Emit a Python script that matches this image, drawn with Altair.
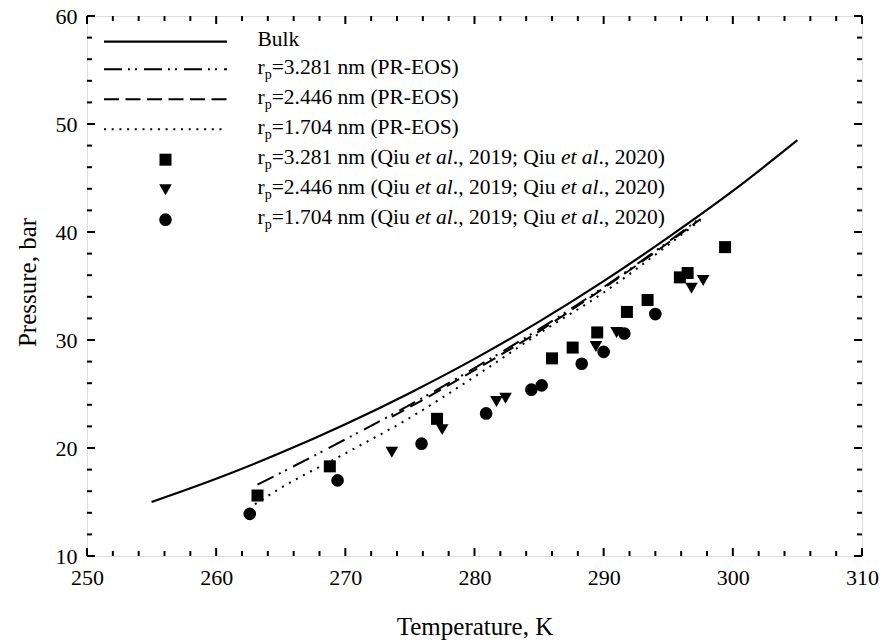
import altair as alt
import pandas as pd

FONT = "Liberation Serif"

# ---------------- data ----------------
bulk_T = [255, 260, 265, 270, 275, 280, 285, 290, 295, 300, 305]
bulk_P = [15.0, 17.15, 19.55, 22.2, 25.1, 28.25, 31.7, 35.45, 39.5, 43.8, 48.5]

pr3281_T = [263.2, 265, 270, 275, 280, 285, 290, 295, 297.5]
pr3281_P = [16.6, 17.7, 20.8, 24.0, 27.4, 31.0, 34.9, 39.1, 41.3]

pr2446_T = [273.6, 275, 280, 285, 290, 295, 297.5]
pr2446_P = [22.9, 23.8, 27.2, 30.8, 34.8, 39.0, 41.2]

pr1704_T = [263.0, 265, 270, 275, 280, 285, 290, 295, 297.5]
pr1704_P = [14.8, 16.3, 19.5, 22.8, 26.6, 30.6, 34.4, 38.8, 41.1]

sq_T = [263.2, 268.8, 277.1, 286.0, 287.6, 289.5, 291.8, 293.4, 295.9, 296.5, 299.4]
sq_P = [15.6, 18.3, 22.7, 28.3, 29.3, 30.7, 32.6, 33.7, 35.8, 36.2, 38.6]

tri_T = [273.6, 277.5, 281.7, 282.4, 289.4, 291.0, 296.8, 297.7]
tri_P = [19.6, 21.7, 24.3, 24.6, 29.4, 30.7, 34.8, 35.5]

cir_T = [262.6, 269.4, 275.9, 280.9, 284.4, 285.2, 288.3, 290.0, 291.6, 294.0]
cir_P = [13.9, 17.0, 20.4, 23.2, 25.4, 25.8, 27.8, 28.9, 30.6, 32.4]

x_major = [250, 260, 270, 280, 290, 300, 310]
y_major = [10, 20, 30, 40, 50, 60]
x_minor = [v for v in range(252, 310, 2) if v % 10 != 0]
y_minor = [v for v in range(12, 60, 2) if v % 10 != 0]

legend_labels = [
    "Bulk",
    "=3.281 nm (PR-EOS)",
    "=2.446 nm (PR-EOS)",
    "=1.704 nm (PR-EOS)",
    "=3.281 nm (Qiu |et al|., 2019; Qiu |et al|., 2020)",
    "=2.446 nm (Qiu |et al|., 2019; Qiu |et al|., 2020)",
    "=1.704 nm (Qiu |et al|., 2019; Qiu |et al|., 2020)",
]

# ---------------- layout ----------------
PADL, PADT = 87, 16
W, H = 775, 540
MAJ, MIN = 8, 5
LEG_FS = 21.5
SUB_FS = 14
XMIN, XMAX, YMIN, YMAX = 250, 310, 10, 60

xs = alt.Scale(domain=[XMIN, XMAX], nice=False, zero=False)
ys = alt.Scale(domain=[YMIN, YMAX], nice=False, zero=False)

xaxis = alt.Axis(values=x_major, title="Temperature, K", ticks=False, domain=False, grid=False,
                 labelFont=FONT, labelFontSize=22, labelColor="black", labelPadding=11,
                 labelFlush=False, labelOverlap=False,
                 titleFont=FONT, titleFontSize=25, titleFontWeight="normal", titleColor="black",
                 titleY=78, titleBaseline="alphabetic")
yaxis = alt.Axis(values=y_major, title="Pressure, bar", ticks=False, domain=False, grid=False,
                 labelFont=FONT, labelFontSize=22, labelColor="black", labelPadding=10,
                 labelFlush=False, labelOverlap=False,
                 titleFont=FONT, titleFontSize=25, titleFontWeight="normal", titleColor="black",
                 titleX=-52, titleY=266, titleAngle=-90, titleBaseline="alphabetic")

XE = lambda f: alt.X(f, scale=xs, axis=xaxis)
YE = lambda f: alt.Y(f, scale=ys, axis=yaxis)


def df_xy(T, P):
    return pd.DataFrame({"T": T, "P": P})


def enc():
    return dict(x=XE("T:Q"), y=YE("P:Q"))


def line_layer(T, P, dash=None, width=2):
    kw = dict(color="black", strokeWidth=width, strokeCap="butt", interpolate="monotone")
    if dash:
        kw["strokeDash"] = dash
    return alt.Chart(df_xy(T, P)).mark_line(**kw).encode(**enc())


def point_layer(T, P, shape, size):
    return alt.Chart(df_xy(T, P)).mark_point(shape=shape, filled=True, size=size,
                                              color="black", opacity=1).encode(**enc())


bulk = line_layer(bulk_T, bulk_P, width=2.2)
l3281 = line_layer(pr3281_T, pr3281_P, dash=[18, 6, 2, 5, 2, 7])
l2446 = line_layer(pr2446_T, pr2446_P, dash=[14, 7])
l1704 = line_layer(pr1704_T, pr1704_P, dash=[2, 6])

p_sq = point_layer(sq_T, sq_P, "square", 144)
p_tri = point_layer(tri_T, tri_P, "triangle-down", 160)
p_cir = point_layer(cir_T, cir_P, "circle", 160)

# ---------------- inward ticks on all four sides ----------------
tick_layers = []
for vals, L in [(x_major, MAJ), (x_minor, MIN)]:
    d = pd.DataFrame({"T": vals})
    tick_layers.append(alt.Chart(d).mark_rule(color="black", strokeWidth=2).encode(
        x=XE("T:Q"), y=alt.value(H), y2=alt.value(H - L)))
    tick_layers.append(alt.Chart(d).mark_rule(color="black", strokeWidth=2).encode(
        x=XE("T:Q"), y=alt.value(0), y2=alt.value(L)))
for vals, L in [(y_major, MAJ), (y_minor, MIN)]:
    d = pd.DataFrame({"P": vals})
    tick_layers.append(alt.Chart(d).mark_rule(color="black", strokeWidth=2).encode(
        y=YE("P:Q"), x=alt.value(0), x2=alt.value(L)))
    tick_layers.append(alt.Chart(d).mark_rule(color="black", strokeWidth=2).encode(
        y=YE("P:Q"), x=alt.value(W), x2=alt.value(W - L)))

# ---------------- legend (manual, to allow subscript and italics) ----------------
REG = {' ': 250, '(': 333, ')': 333, ',': 250, '-': 333, '.': 250, ';': 278, '=': 564,
       'B': 667, 'E': 611, 'O': 722, 'P': 556, 'Q': 722, 'R': 667, 'S': 556,
       'a': 444, 'e': 444, 'i': 278, 'k': 500, 'l': 278, 'm': 778, 'n': 500, 'p': 500,
       'r': 333, 't': 278, 'u': 500}
for dch in "0123456789":
    REG[dch] = 500
ITA = {' ': 250, '.': 250, 'a': 500, 'e': 444, 'l': 278, 't': 278}


def tw(s, italic, fs):
    tab = ITA if italic else REG
    return sum(tab.get(c, 500) for c in s) * fs / 1000.0


def to_T(px):
    return XMIN + (px - PADL) / W * (XMAX - XMIN)


def to_P(py):
    return YMAX - (py - PADT) / H * (YMAX - YMIN)


row_center = [39.2, 66.7, 96.7, 126.7, 156.7, 186.7, 216.7]
sample_y = [41.7, 69.2, 99.2, 129.2, 159.7, 189.7, 219.7]
TEXT_X = 257.5
S_X0, S_X1, S_XC = 104, 227, 165.5

seg_rows = []
for i, lab in enumerate(legend_labels):
    base = row_center[i] + 0.33 * LEG_FS
    cur = TEXT_X
    if i == 0:
        seg_rows.append(dict(T=to_T(cur), P=to_P(base), txt=lab, kind="n"))
        continue
    seg_rows.append(dict(T=to_T(cur), P=to_P(base), txt="r", kind="n"))
    cur += tw("r", False, LEG_FS)
    seg_rows.append(dict(T=to_T(cur), P=to_P(base + 5), txt="p", kind="s"))
    cur += tw("p", False, SUB_FS)
    for k, part in enumerate(lab.split("|")):
        it = (k % 2 == 1)
        lead = len(part) - len(part.lstrip(" "))
        x = cur + tw(" " * lead, it, LEG_FS)
        seg_rows.append(dict(T=to_T(x), P=to_P(base), txt=part.strip(), kind="i" if it else "n"))
        cur += tw(part, it, LEG_FS)
seg_df = pd.DataFrame(seg_rows)


def text_layer(kind, fs, style):
    return alt.Chart(seg_df).transform_filter(f"datum.kind == '{kind}'").mark_text(
        align="left", baseline="alphabetic", font=FONT, color="black",
        fontSize=fs, fontStyle=style).encode(text="txt:N", **enc())


def leg_line(i, dash=None, width=2):
    kw = dict(color="black", strokeWidth=width, strokeCap="butt")
    if dash:
        kw["strokeDash"] = dash
    return alt.Chart(pd.DataFrame({"k": [0]})).mark_rule(**kw).encode(
        x=alt.value(S_X0 - PADL), x2=alt.value(S_X1 - PADL), y=alt.value(sample_y[i] - PADT))


def leg_pt(i, shape, size):
    return alt.Chart(pd.DataFrame({"k": [0]})).mark_point(
        shape=shape, filled=True, size=size, color="black", opacity=1).encode(
        x=alt.value(S_XC - PADL), y=alt.value(sample_y[i] - PADT))


legend_layers = [
    leg_line(0, width=2.2),
    leg_line(1, [18, 6, 2, 5, 2, 7]),
    leg_line(2, [15, 6.5]),
    leg_line(3, [2, 5.7]),
    leg_pt(4, "square", 144),
    leg_pt(5, "triangle-down", 160),
    leg_pt(6, "circle", 160),
    text_layer("n", LEG_FS, "normal"),
    text_layer("s", SUB_FS, "normal"),
    text_layer("i", LEG_FS, "italic"),
]

chart = alt.layer(
    bulk, l3281, l2446, l1704, p_sq, p_tri, p_cir, *tick_layers, *legend_layers
).properties(
    width=W, height=H,
    padding={"left": PADL, "top": PADT, "right": 881 - PADL - W, "bottom": 643 - PADT - H},
    autosize="none",
).configure_view(stroke="black", strokeWidth=2).configure(background="white")

chart.save("out.html", embed_options={"renderer": "svg", "actions": False})
